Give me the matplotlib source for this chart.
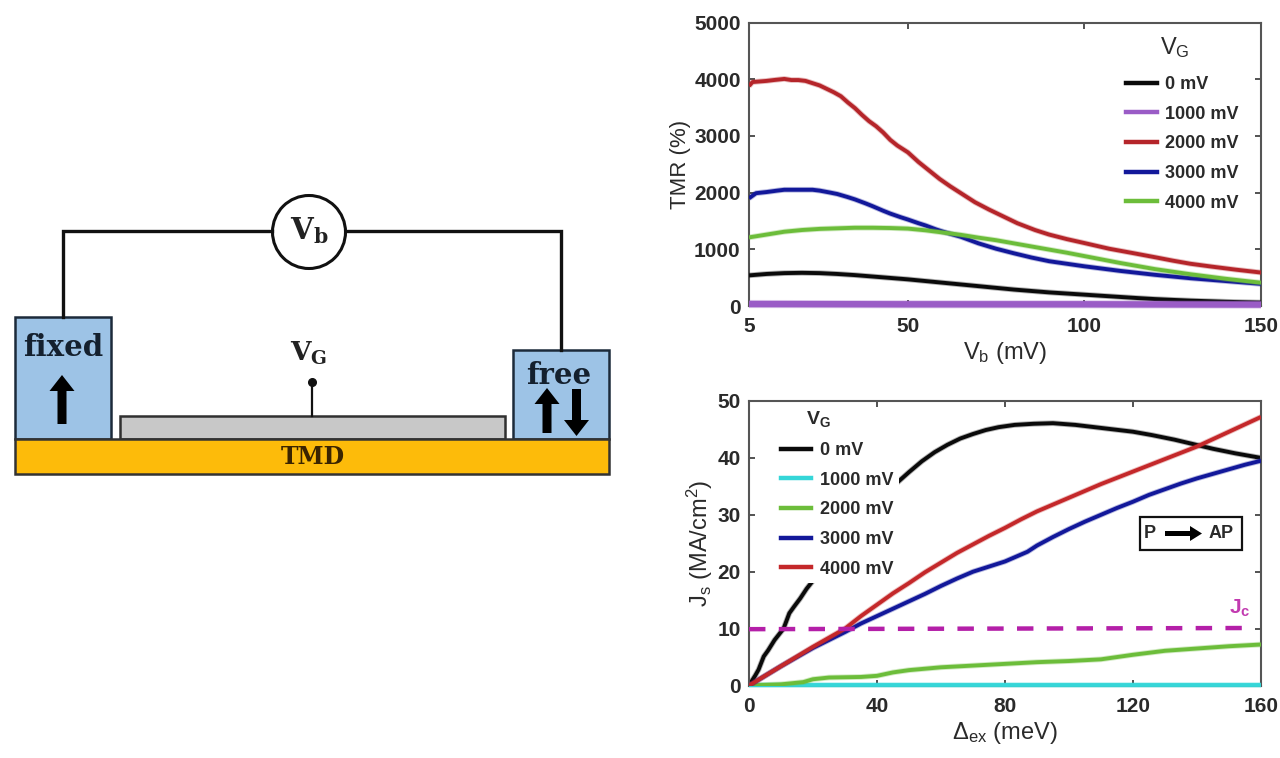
import matplotlib
matplotlib.use("Agg")
import matplotlib.pyplot as plt
import matplotlib.patheffects as pe
from matplotlib.patches import Rectangle, Circle, FancyArrow

plt.rcParams['font.family'] = ['Liberation Sans', 'DejaVu Sans']
plt.rcParams['mathtext.fontset'] = 'custom'
plt.rcParams['mathtext.rm'] = 'Liberation Sans'
plt.rcParams['mathtext.bf'] = 'Liberation Sans:bold'
plt.rcParams['mathtext.it'] = 'Liberation Sans:italic'

W, H = 1280, 758
INK = '#2a2a2a'

# ---------- top panel data: TMR vs Vb ----------
vb_labels = ['0 mV', '1000 mV', '2000 mV', '3000 mV', '4000 mV']
tmr_colors = ['#0a0a0a', '#9a5cc6', '#b5252a', '#12189a', '#6cbd3a']
vb_0 = [5, 10, 15, 20, 25, 30, 35, 40, 45, 50, 55, 60, 65, 70, 75, 80, 85, 90, 95, 100, 105, 110, 115, 120, 125, 130, 135, 140, 145, 150]
tmr_0 = [540, 565, 580, 585, 580, 565, 545, 520, 495, 470, 440, 410, 380, 350, 320, 290, 265, 240, 220, 200, 180, 160, 140, 122, 108, 95, 85, 75, 67, 60]
vb_1 = [5, 50, 100, 150]
tmr_1 = [35, 30, 30, 25]
vb_2 = [5, 6, 8, 10, 12, 15, 17, 19, 21, 23, 25, 27, 29, 31, 33, 35, 37, 39, 41, 43, 45, 47, 50, 53, 56, 59, 62, 65, 69, 73, 77, 81, 86, 90, 95, 100, 107, 114, 120, 125, 130, 136, 143, 150]
tmr_2 = [3880, 3950, 3960, 3970, 3985, 4005, 3985, 3985, 3970, 3930, 3890, 3830, 3770, 3700, 3590, 3490, 3370, 3260, 3170, 3060, 2930, 2830, 2710, 2540, 2390, 2240, 2110, 1990, 1830, 1700, 1580, 1460, 1340, 1260, 1180, 1110, 1010, 930, 860, 800, 745, 695, 640, 590]
vb_3 = [5, 7, 10, 13, 15, 18, 20, 23, 25, 28, 30, 33, 35, 38, 40, 43, 45, 48, 50, 53, 55, 58, 60, 63, 65, 70, 75, 80, 85, 90, 95, 100, 105, 110, 115, 120, 125, 130, 135, 140, 145, 150]
tmr_3 = [1900, 1990, 2010, 2035, 2050, 2050, 2050, 2050, 2035, 2000, 1975, 1920, 1880, 1810, 1760, 1680, 1630, 1565, 1525, 1460, 1420, 1350, 1310, 1255, 1220, 1105, 1010, 930, 855, 790, 745, 700, 660, 620, 585, 550, 520, 490, 465, 440, 415, 390]
vb_4 = [5, 10, 15, 20, 25, 30, 35, 40, 45, 50, 55, 60, 65, 70, 75, 80, 85, 90, 95, 100, 105, 110, 115, 120, 125, 130, 135, 140, 145, 150]
tmr_4 = [1210, 1260, 1310, 1340, 1360, 1370, 1380, 1380, 1375, 1365, 1335, 1295, 1255, 1205, 1160, 1105, 1050, 995, 940, 880, 820, 760, 705, 650, 605, 560, 520, 480, 445, 410]

# ---------- bottom panel data: Js vs exchange splitting ----------
js_labels = ['0 mV', '1000 mV', '2000 mV', '3000 mV', '4000 mV']
js_colors = ['#0a0a0a', '#35d6d8', '#6cbd3a', '#12189a', '#c4282a']
ex_0 = [0, 2, 3, 4.6, 6, 8, 10.8, 12.6, 14, 16, 18, 19.4, 25, 30, 35, 40, 47, 50, 54, 58, 62, 66, 70, 74, 78, 83, 89, 95, 102, 108, 114, 120, 126, 133, 139, 145, 152, 160]
js_0 = [0, 1.8, 2.8, 5.1, 6.2, 8, 10, 12.7, 13.8, 15.3, 17, 18, 22, 26, 29.5, 32.5, 36, 37.5, 39.4, 41, 42.3, 43.4, 44.2, 44.9, 45.4, 45.8, 46, 46.1, 45.8, 45.4, 45, 44.6, 44, 43.2, 42.4, 41.6, 40.8, 40]
ex_1 = [0, 160]
js_1 = [0.05, 0.05]
ex_2 = [0, 10, 17, 20, 25, 35, 40, 45, 50, 60, 70, 80, 90, 100, 110, 115, 120, 130, 140, 150, 160]
js_2 = [0, 0.2, 0.6, 1.1, 1.4, 1.5, 1.7, 2.3, 2.7, 3.2, 3.5, 3.8, 4.1, 4.3, 4.6, 5, 5.4, 6.1, 6.5, 6.9, 7.2]
ex_3 = [0, 5, 10, 15, 20, 25, 30, 35, 40, 45, 50, 55, 60, 65, 70, 75, 80, 87, 90, 95, 100, 105, 110, 115, 120, 125, 130, 135, 140, 145, 150, 155, 160]
js_3 = [0, 1.7, 3.4, 5, 6.6, 8, 9.4, 10.9, 12.2, 13.5, 14.8, 16.1, 17.5, 18.8, 20, 20.9, 21.8, 23.5, 24.6, 26.1, 27.5, 28.8, 30, 31.2, 32.3, 33.5, 34.5, 35.5, 36.4, 37.2, 38, 38.8, 39.5]
ex_4 = [0, 5, 10, 15, 20, 25, 30, 35, 40, 45, 50, 55, 60, 65, 70, 75, 80, 85, 90, 95, 100, 105, 110, 115, 120, 125, 130, 135, 140, 145, 150, 155, 160]
js_4 = [0, 1.7, 3.4, 5.1, 6.8, 8.4, 10, 12.2, 14.2, 16.2, 18, 19.9, 21.6, 23.3, 24.8, 26.3, 27.7, 29.2, 30.6, 31.8, 33, 34.2, 35.4, 36.5, 37.6, 38.7, 39.8, 40.9, 42, 43.3, 44.6, 45.9, 47.2]
jc_x = [0, 154]
jc_y = [9.9, 10.1]

fig = plt.figure(figsize=(12.8, 7.58), dpi=100, facecolor='white')


def px_axes(x0, y0, x1, y1):
    return fig.add_axes([x0 / W, 1 - y1 / H, (x1 - x0) / W, (y1 - y0) / H])


def halo(c, lw):
    return [pe.Stroke(linewidth=lw + 1.3, foreground=c, alpha=0.3), pe.Normal()]


# ---------- schematic, in pixel coordinates ----------
sch = fig.add_axes([0, 0, 1, 1], zorder=0)
sch.set_xlim(0, W)
sch.set_ylim(H, 0)
sch.axis('off')
EDGE = '#1c2a3a'
sch.plot([63, 63, 272], [317, 231, 231], color='#111111', lw=2.4, solid_joinstyle='miter')
sch.plot([346, 561, 561], [231, 231, 350], color='#111111', lw=2.4, solid_joinstyle='miter')
sch.add_patch(Circle((309, 232), 36.5, fc='white', ec='#111111', lw=2.2))
sch.add_patch(Rectangle((15, 317), 96, 122, fc='#9dc3e6', ec=EDGE, lw=1.8))
sch.add_patch(Rectangle((513, 350), 96, 89, fc='#9dc3e6', ec=EDGE, lw=1.8))
sch.add_patch(Rectangle((120, 416), 385, 23, fc='#c8c8c8', ec='#303030', lw=1.8))
sch.add_patch(Rectangle((15, 439), 594, 35, fc='#fdbb0a', ec='#333333', lw=1.8))
sch.plot([312, 312], [382, 416], color='#111111', lw=1.6)
sch.plot([312], [382], 'o', color='#111111', ms=5.5)


def arrow(x, y0, y1):
    sch.add_patch(FancyArrow(x, y0, 0, y1 - y0, width=9, head_width=25, head_length=16,
                             length_includes_head=True, fc='black', ec='black', lw=0))


arrow(62, 424, 375)
arrow(547, 433, 388)
arrow(576.5, 389, 436)
SERIF = 'DejaVu Serif'
sch.text(63, 347, 'fixed', family=SERIF, weight='bold', fontsize=21, color='#14202e', ha='center', va='center')
sch.text(559, 375, 'free', family=SERIF, weight='bold', fontsize=21, color='#14202e', ha='center', va='center')
sch.text(313, 457, 'TMD', family=SERIF, weight='bold', fontsize=17, color='#3a2400', ha='center', va='center')
sch.text(309, 231, r'$\mathbf{V}_{\mathbf{b}}$', fontsize=21, ha='center', va='center', color='#222222',
         math_fontfamily='dejavuserif')
sch.text(309, 353, r'$\mathbf{V}_{\mathbf{G}}$', fontsize=19, ha='center', va='center', color='#222222',
         math_fontfamily='dejavuserif')


def style(ax, xt, yt, xlim, ylim):
    ax.set_xlim(*xlim)
    ax.set_ylim(*ylim)
    ax.set_xticks(xt)
    ax.set_yticks(yt)
    ax.tick_params(direction='in', top=True, right=True, length=4, width=1.3, color='#444444',
                   labelsize=15, labelcolor=INK)
    ax.tick_params(axis='x', pad=8)
    ax.tick_params(axis='y', pad=6)
    for lab in ax.get_xticklabels() + ax.get_yticklabels():
        lab.set_fontweight('bold')
    for s in ax.spines.values():
        s.set_linewidth(1.5)
        s.set_edgecolor('#555555')
    ax.patch.set_alpha(0)


def vg_legend(ax, handles, labels, x0, y0):
    leg = ax.legend(handles, labels, loc='upper left', bbox_to_anchor=(x0 / W, 1 - y0 / H),
                    bbox_transform=fig.transFigure, frameon=False, handlelength=1.7,
                    handletextpad=0.48, labelspacing=0.7, borderpad=0, borderaxespad=0,
                    prop={'weight': 'bold', 'size': 13})
    for t in leg.get_texts():
        t.set_color(INK)
    return leg


# ---------- top panel ----------
ax1 = px_axes(749, 22.5, 1261, 306)
tmr_x = [vb_0, vb_1, vb_2, vb_3, vb_4]
tmr_y = [tmr_0, tmr_1, tmr_2, tmr_3, tmr_4]
tmr_lw = [2.8, 4.6, 2.8, 2.8, 2.8]
tmr_clip = [True, False, True, True, True]
tmr_order = [0, 1, 3, 4, 2]
for i in tmr_order:
    ax1.plot(tmr_x[i], tmr_y[i], color=tmr_colors[i], lw=tmr_lw[i], clip_on=tmr_clip[i],
             solid_capstyle='butt', path_effects=halo(tmr_colors[i], tmr_lw[i]), zorder=3)
style(ax1, [5, 50, 100, 150], [0, 1000, 2000, 3000, 4000, 5000], (5, 150), (0, 5000))
ax1.set_xlabel(r'$\mathregular{V_b}$ (mV)', fontsize=17, color=INK, labelpad=3)
ax1.set_ylabel('TMR (%)', fontsize=16, color=INK, labelpad=2)
vg_legend(ax1, [plt.Line2D([], [], color=c, lw=3.2) for c in tmr_colors], vb_labels, 1126, 76)
fig.text(1175 / W, 1 - 48 / H, r'$\mathregular{V_G}$', fontsize=17, color=INK, ha='center', va='center')

# ---------- bottom panel ----------
ax2 = px_axes(749, 401, 1261, 685.5)
js_x = [ex_0, ex_1, ex_2, ex_3, ex_4]
js_y = [js_0, js_1, js_2, js_3, js_4]
ax2.plot(ex_0, js_0, color=js_colors[0], lw=2.8, zorder=2, path_effects=halo(js_colors[0], 2.8))
for i in range(1, 5):
    ax2.plot(js_x[i], js_y[i], color=js_colors[i], lw=2.8, zorder=3, clip_on=(i != 1),
             solid_capstyle='butt', path_effects=halo(js_colors[i], 2.8))
ax2.plot(jc_x, jc_y, color='#b41fa8', lw=3.2, ls=(0, (3.7, 3.0)), zorder=3)
ax2.add_patch(Rectangle((777, 412), 122, 171, transform=sch.transData, fc='white', ec='none', zorder=2.5))
style(ax2, [0, 40, 80, 120, 160], [0, 10, 20, 30, 40, 50], (0, 160), (0, 50))
ax2.set_xlabel(r'$\mathregular{\Delta_{ex}}$ (meV)', fontsize=17, color=INK, labelpad=3)
ax2.set_ylabel(r'$\mathregular{J_s}$ (MA/cm$\mathregular{^2}$)', fontsize=17, color=INK, labelpad=2)
vg_legend(ax2, [plt.Line2D([], [], color=c, lw=3.2) for c in js_colors], js_labels, 780.5, 442)
ax2.text(818 / W, 1 - 419 / H, r'$\mathbf{V_G}$', transform=fig.transFigure, fontsize=14, color=INK,
         ha='center', va='center', zorder=6)
ax2.text(1240 / W, 1 - 608 / H, r'$\mathbf{J_c}$', transform=fig.transFigure, fontsize=15, color='#c23ab0',
         ha='center', va='center', zorder=6)

# P -> AP box
ax2.add_patch(Rectangle((1140, 517), 102, 33, transform=sch.transData, fc='white', ec='#111111', lw=1.6, zorder=4))
ax2.text(1150 / W, 1 - 534 / H, 'P', transform=fig.transFigure, fontsize=13, weight='bold', color=INK,
         ha='center', va='center', zorder=5)
ax2.text(1221 / W, 1 - 534 / H, 'AP', transform=fig.transFigure, fontsize=13, weight='bold', color=INK,
         ha='center', va='center', zorder=5)
ax2.add_patch(FancyArrow(1165, 533.5, 37, 0, width=5, head_width=15, head_length=12, length_includes_head=True,
                         transform=sch.transData, fc='black', ec='black', lw=0, zorder=5))

fig.savefig('out.png', dpi=100)
